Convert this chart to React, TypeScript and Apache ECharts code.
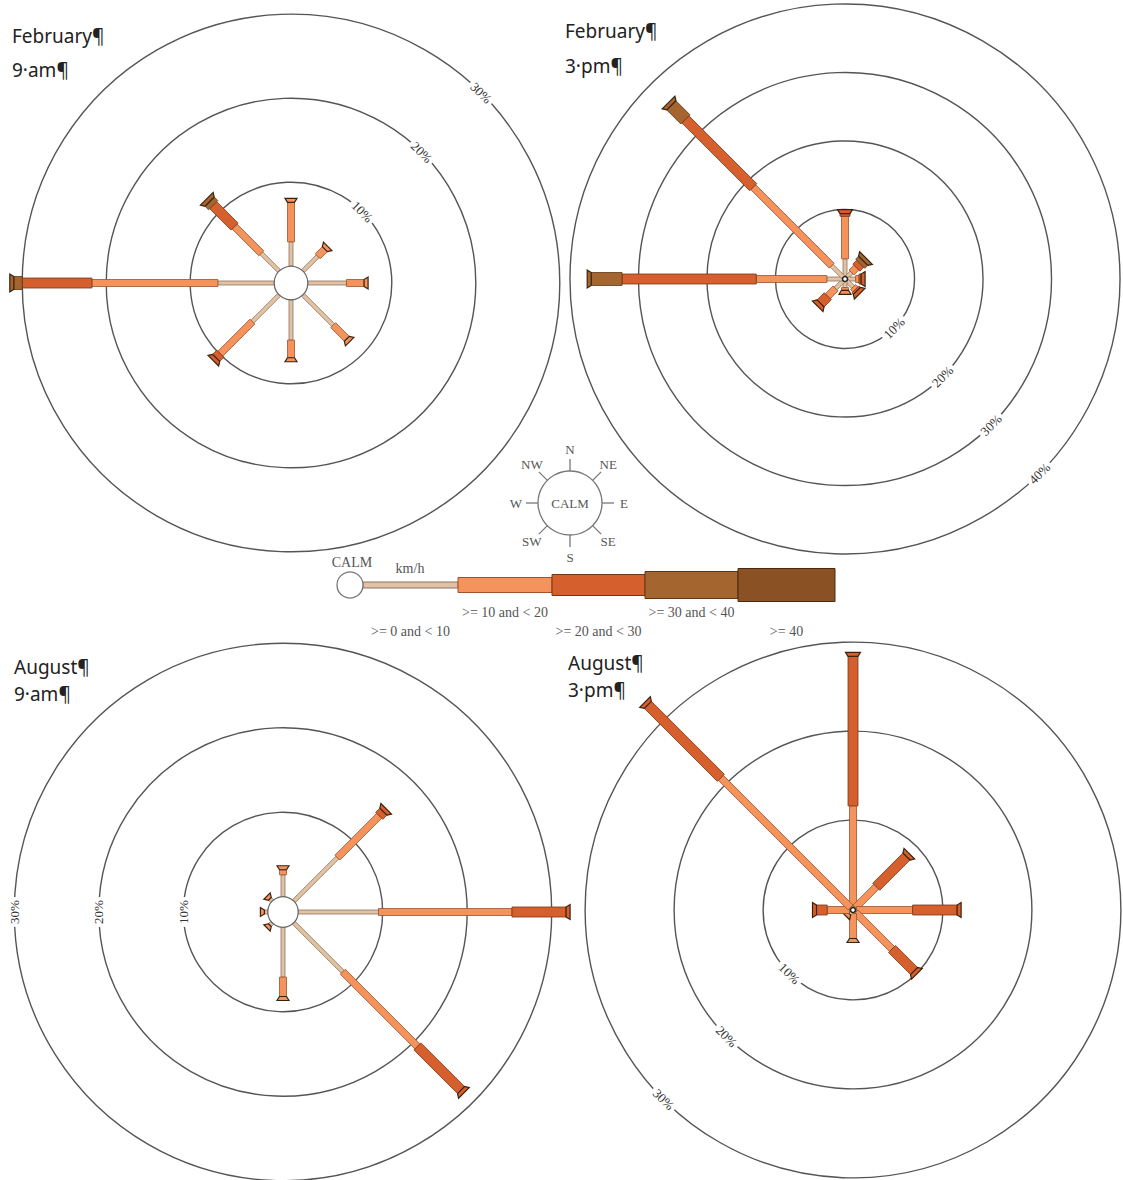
import React, { useEffect, useRef } from 'react';
import * as echarts from 'echarts';

// ---- data ----
const directions = ['N', 'NE', 'E', 'SE', 'S', 'SW', 'W', 'NW'];
const directionAngles = [0, 45, 90, 135, 180, 225, 270, 315];
const speedClasses = ['>= 0 and < 10', '>= 10 and < 20', '>= 20 and < 30', '>= 30 and < 40', '>= 40'];

// percent of observations per direction (rows follow `directions`), per speed class
const febAmCalm = 2.0;
const febAm = [
  [2.9, 4.7, 0, 0, 0],
  [2.5, 1.2, 0, 0, 0],
  [4.6, 2.1, 0, 0, 0],
  [5.1, 2.3, 0, 0, 0],
  [4.8, 2.1, 0, 0, 0],
  [4.5, 5.4, 0.7, 0, 0],
  [6.7, 15.0, 8.3, 1.0, 0],
  [3.0, 4.5, 3.6, 0.6, 0],
];
const febPmCalm = 0.15;
const febPm = [
  [2.8, 6.2, 0.4, 0, 0],
  [1.2, 1.0, 0.8, 0.6, 0],
  [1.4, 0.5, 0.3, 0, 0],
  [1.5, 0.5, 0.3, 0, 0],
  [1.1, 0.4, 0, 0, 0],
  [1.8, 1.6, 1.5, 0, 0],
  [2.5, 10.3, 19.6, 4.5, 0],
  [2.6, 16.2, 14.0, 2.9, 0],
];
const augAmCalm = 1.8;
const augAm = [
  [2.6, 0.6, 0, 0, 0],
  [7.3, 7.0, 0.7, 0, 0],
  [9.5, 15.8, 6.4, 0, 0],
  [8.2, 12.5, 7.3, 0, 0],
  [5.9, 2.3, 0, 0, 0],
  [0.4, 0, 0, 0, 0],
  [0.4, 0, 0, 0, 0],
  [0.4, 0, 0, 0, 0],
];
const augPmCalm = 0.1;
const augPm = [
  [0.3, 11.3, 16.8, 0, 0],
  [0.3, 3.3, 4.8, 0, 0],
  [0.3, 6.3, 5.0, 0, 0],
  [0.3, 5.8, 3.5, 0, 0],
  [0.3, 2.8, 0, 0, 0],
  [0.5, 0, 0, 0, 0],
  [0.3, 2.5, 1.2, 0, 0],
  [0.3, 20.6, 11.6, 0, 0],
];
const ringTicks3 = [10, 20, 30];
const ringTicks4 = [10, 20, 30, 40];
const panelTitles = ['February¶', 'February¶', 'August¶', 'August¶'];
const panelTimes = ['9·am¶', '3·pm¶', '9·am¶', '3·pm¶'];

// ---- styles / layout ----
const speedColors = ['#e2c2a2', '#f4935c', '#d5602d', '#a5652f', '#8a5224'];
const speedStrokes = ['#8d7360', '#9a532c', '#7a3514', '#5e3714', '#4a2a10'];
const segWidths = [4, 7, 10, 13, 16];
const R = 20;
const layouts = [
  { cx: 291, cy: 283, k: 8.4, labelDeg: 45, tx: 12, ty: [36, 70] },
  { cx: 845, cy: 279, k: 6.85, labelDeg: 135, tx: 565, ty: [31, 66] },
  { cx: 283, cy: 912, k: 8.45, labelDeg: 270, tx: 14, ty: [667, 694] },
  { cx: 853, cy: 910, k: 8.9, labelDeg: 225, tx: 568, ty: [663, 690] },
];
const SERIF = '"Liberation Serif", "DejaVu Serif", serif';

function ringRender(calm: number, labelDeg: number) {
  return (params: any, api: any) => {
    const v = api.value(0);
    const c = api.coord([0, 0]);
    const e = api.coord([calm + v, 0]);
    const r = e[0] - c[0];
    const th = (labelDeg * Math.PI) / 180;
    const lp = api.coord([(calm + v) * Math.sin(th), (calm + v) * Math.cos(th)]);
    let rot = -th;
    while (rot <= -Math.PI / 2 + 1e-6) rot += Math.PI;
    while (rot > Math.PI / 2 + 1e-6) rot -= Math.PI;
    return {
      type: 'group',
      children: [
        { type: 'circle', shape: { cx: c[0], cy: c[1], r }, style: { fill: 'none', stroke: '#555', lineWidth: 1.4 } },
        {
          type: 'text', x: lp[0], y: lp[1], rotation: rot,
          style: {
            text: v + '%', fill: '#333', font: '13px ' + SERIF, align: 'center', verticalAlign: 'middle',
            backgroundColor: '#fff', padding: [1, 3],
          },
        },
      ],
    };
  };
}

function barRender(calm: number) {
  return (params: any, api: any) => {
    const dirIdx = api.value(0);
    const th = (directionAngles[dirIdx] * Math.PI) / 180;
    const s = Math.sin(th), co = Math.cos(th);
    const pt = (r: number) => api.coord([r * s, r * co]);
    const children: any[] = [];
    let cum = calm;
    let lastP: number[] | null = null;
    let lastW = 0, lastI = 0;
    let u = [0, -1], n = [1, 0];
    for (let i = 0; i < 5; i++) {
      const v = api.value(i + 1);
      if (!v) continue;
      const a = pt(cum), b = pt(cum + v);
      cum += v;
      const dx = b[0] - a[0], dy = b[1] - a[1];
      const len = Math.hypot(dx, dy) || 1;
      u = [dx / len, dy / len];
      n = [-u[1], u[0]];
      const w = segWidths[i] / 2;
      children.push({
        type: 'polygon',
        shape: { points: [
          [a[0] + n[0] * w, a[1] + n[1] * w], [b[0] + n[0] * w, b[1] + n[1] * w],
          [b[0] - n[0] * w, b[1] - n[1] * w], [a[0] - n[0] * w, a[1] - n[1] * w],
        ] },
        style: { fill: speedColors[i], stroke: speedStrokes[i], lineWidth: 0.8 },
      });
      lastP = b; lastW = w; lastI = i;
    }
    if (lastP) {
      const w2 = lastW + 2.5, L = 4, p = lastP;
      children.push({
        type: 'polygon',
        shape: { points: [
          [p[0] + n[0] * lastW, p[1] + n[1] * lastW],
          [p[0] + u[0] * L + n[0] * w2, p[1] + u[1] * L + n[1] * w2],
          [p[0] + u[0] * L - n[0] * w2, p[1] + u[1] * L - n[1] * w2],
          [p[0] - n[0] * lastW, p[1] - n[1] * lastW],
        ] },
        style: { fill: speedColors[Math.max(lastI, 1)], stroke: '#3a2210', lineWidth: 1.2 },
      });
    }
    return { type: 'group', children };
  };
}

function calmRender(params: any, api: any) {
  const v = api.value(0);
  const c = api.coord([0, 0]);
  const e = api.coord([v, 0]);
  const r = e[0] - c[0];
  const small = r < 4;
  return {
    type: 'circle',
    shape: { cx: c[0], cy: c[1], r: small ? 2.5 : r },
    style: { fill: '#fff', stroke: small ? '#222' : '#666', lineWidth: small ? 1.5 : 1.2 },
  };
}

const App: React.FC = () => {
  const ref = useRef<HTMLDivElement>(null);
  useEffect(() => {
    if (!ref.current) return;
    const chart = echarts.init(ref.current, undefined, { renderer: 'svg' });
    const datasets = [febAm, febPm, augAm, augPm];
    const calms = [febAmCalm, febPmCalm, augAmCalm, augPmCalm];
    const ringSets = [ringTicks3, ringTicks4, ringTicks3, ringTicks3];
    const grid: any[] = [], xAxis: any[] = [], yAxis: any[] = [], series: any[] = [];
    layouts.forEach((L, i) => {
      grid.push({ left: L.cx - R * L.k, top: L.cy - R * L.k, width: 2 * R * L.k, height: 2 * R * L.k, show: false });
      xAxis.push({ type: 'value', gridIndex: i, min: -R, max: R, show: false });
      yAxis.push({ type: 'value', gridIndex: i, min: -R, max: R, show: false });
      series.push({
        type: 'custom', xAxisIndex: i, yAxisIndex: i, silent: true, clip: false,
        renderItem: ringRender(calms[i], L.labelDeg),
        data: ringSets[i].map((t) => [t]),
      });
      series.push({
        type: 'custom', xAxisIndex: i, yAxisIndex: i, silent: true, clip: false,
        renderItem: barRender(calms[i]),
        data: datasets[i].map((row, d) => [d, ...row]),
      });
      series.push({
        type: 'custom', xAxisIndex: i, yAxisIndex: i, silent: true, clip: false,
        renderItem: calmRender,
        data: [[calms[i]]],
      });
    });

    const graphic: any[] = [];
    // titles
    layouts.forEach((L, i) => {
      graphic.push({ type: 'text', x: L.tx, y: L.ty[0], style: { text: panelTitles[i], fill: '#222', font: '19px "Noto Sans"', verticalAlign: 'middle' } });
      graphic.push({ type: 'text', x: L.tx, y: L.ty[1], style: { text: panelTimes[i], fill: '#222', font: '19px "Noto Sans"', verticalAlign: 'middle' } });
    });
    // compass key
    const kc = [570, 503];
    graphic.push({ type: 'circle', shape: { cx: kc[0], cy: kc[1], r: 32 }, style: { fill: '#fff', stroke: '#777', lineWidth: 1.3 } });
    graphic.push({ type: 'text', x: kc[0], y: kc[1], style: { text: 'CALM', fill: '#555', font: '13px ' + SERIF, align: 'center', verticalAlign: 'middle' } });
    directions.forEach((d, i) => {
      const th = (directionAngles[i] * Math.PI) / 180;
      const s = Math.sin(th), c = -Math.cos(th);
      graphic.push({ type: 'line', shape: { x1: kc[0] + s * 32, y1: kc[1] + c * 32, x2: kc[0] + s * 44, y2: kc[1] + c * 44 }, style: { stroke: '#777', lineWidth: 1.3 } });
      graphic.push({ type: 'text', x: kc[0] + s * 54, y: kc[1] + c * 54, style: { text: d, fill: '#555', font: '13px ' + SERIF, align: 'center', verticalAlign: 'middle' } });
    });
    // speed legend
    const ly = 585;
    graphic.push({ type: 'text', x: 352, y: 562, style: { text: 'CALM', fill: '#555', font: '14px ' + SERIF, align: 'center', verticalAlign: 'middle' } });
    graphic.push({ type: 'text', x: 410, y: 568, style: { text: 'km/h', fill: '#555', font: '14px ' + SERIF, align: 'center', verticalAlign: 'middle' } });
    const legX = [363, 458, 552, 645, 738, 835];
    const legH = [6, 15, 21, 27, 33];
    speedClasses.forEach((lab, i) => {
      graphic.push({ type: 'rect', shape: { x: legX[i], y: ly - legH[i] / 2, width: legX[i + 1] - legX[i], height: legH[i] }, style: { fill: speedColors[i], stroke: speedStrokes[i], lineWidth: 1 } });
      const cx = (legX[i] + legX[i + 1]) / 2;
      graphic.push({ type: 'text', x: cx, y: i % 2 === 1 ? 612 : 631, style: { text: lab, fill: '#555', font: '14px ' + SERIF, align: 'center', verticalAlign: 'middle' } });
    });
    graphic.push({ type: 'circle', shape: { cx: 350, cy: ly, r: 13 }, style: { fill: '#fff', stroke: '#777', lineWidth: 1.3 } });

    chart.setOption({ animation: false, backgroundColor: '#fff', grid, xAxis, yAxis, series, graphic });
    return () => chart.dispose();
  }, []);
  return <div ref={ref} style={{ position: 'absolute', left: 0, top: 0, width: 1123, height: 1180 }} />;
};

export default App;
